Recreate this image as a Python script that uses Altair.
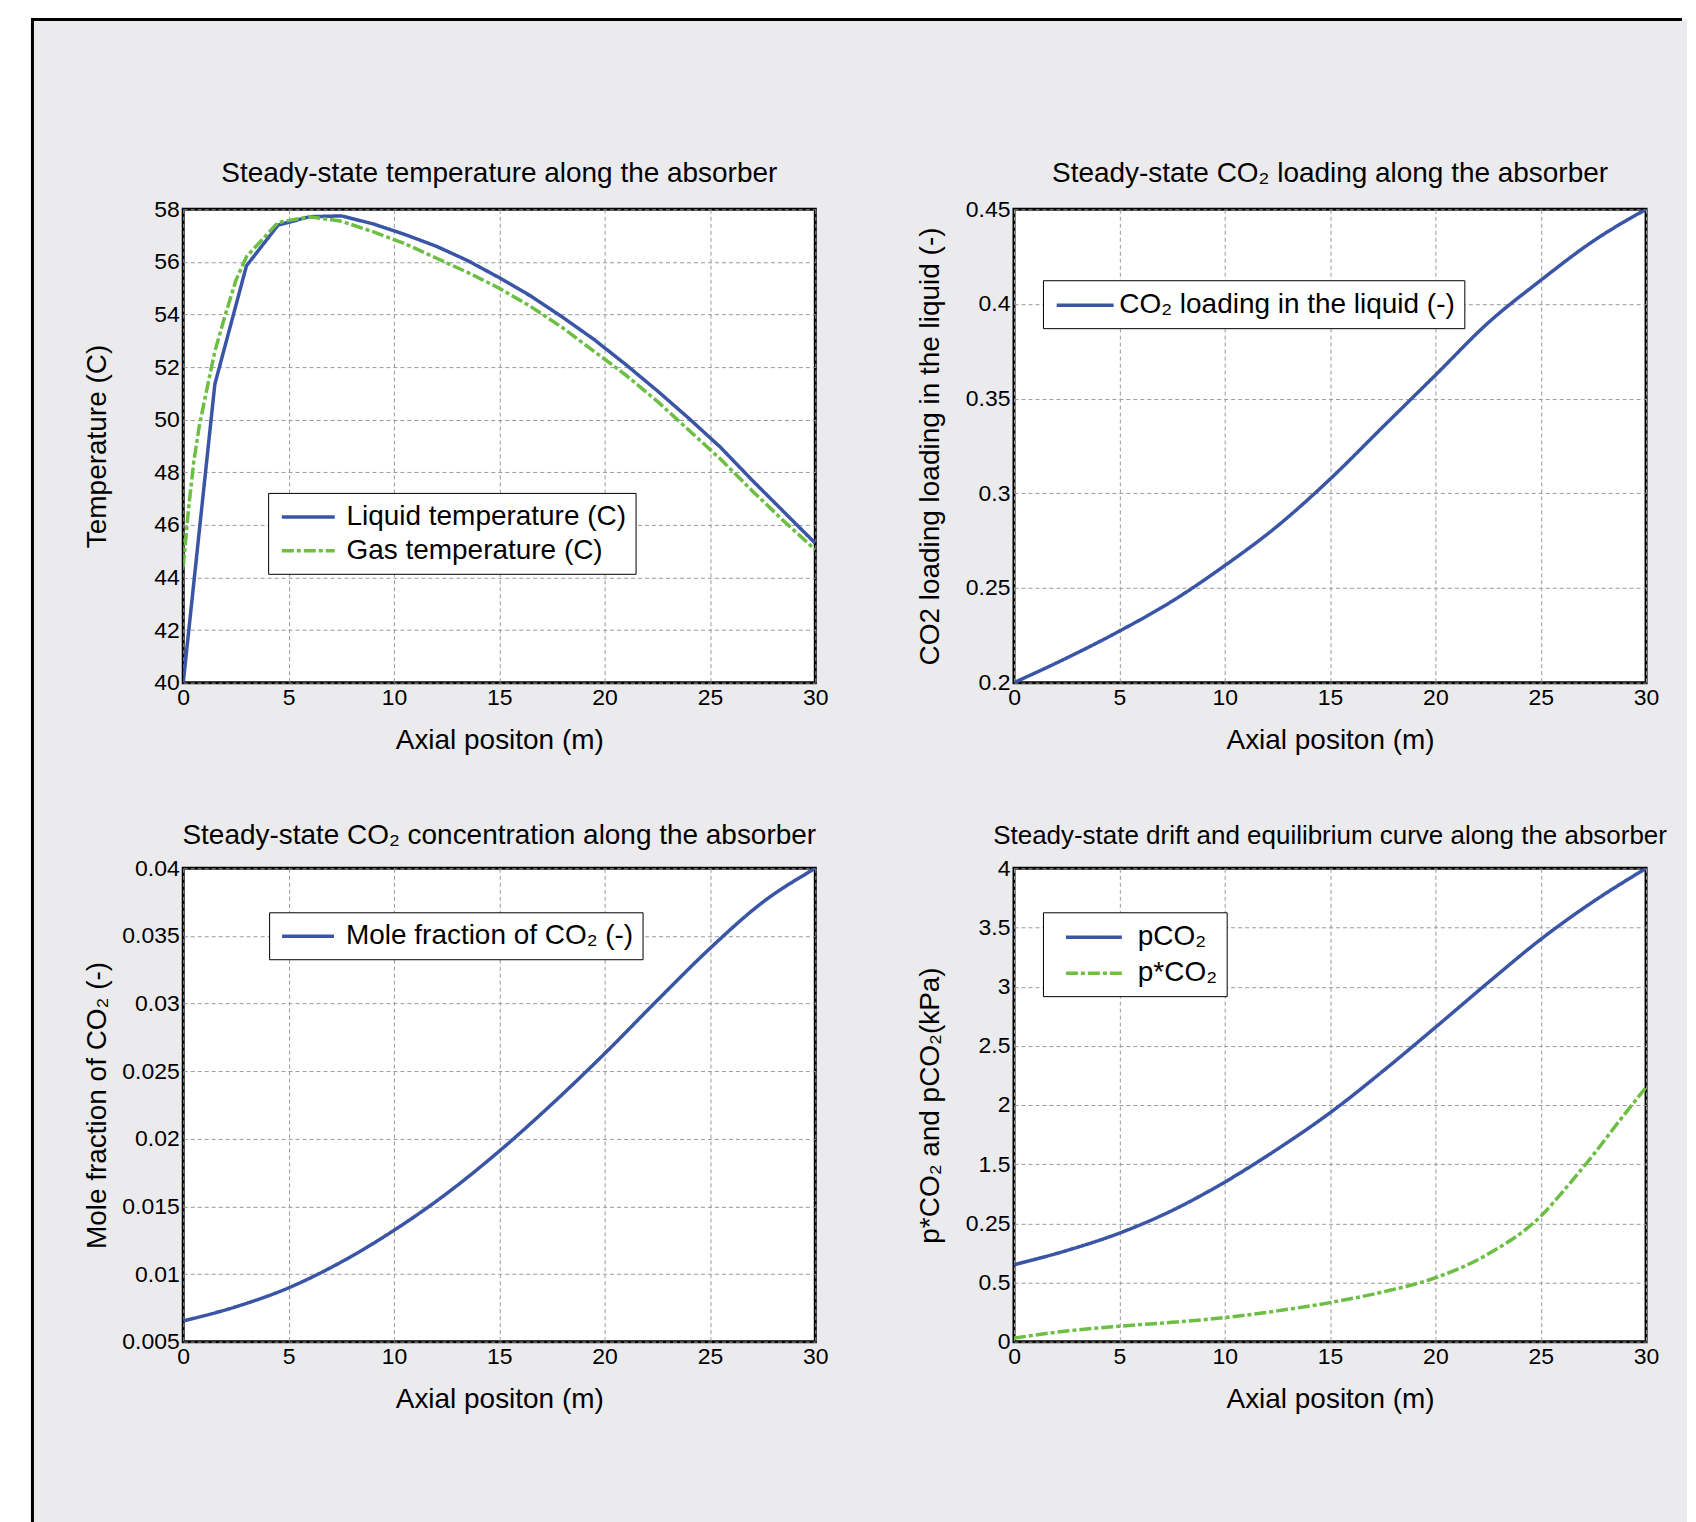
import altair as alt
import pandas as pd

# ---------------- data ----------------
# Panel 1: temperatures
x_liquid = [0, 1.5, 3, 4.5, 6, 7.5, 9, 10.5, 12, 13.5, 15, 16.5, 18, 19.5, 21, 22.5, 24, 25.5, 27, 28.5, 30]
t_liquid = [40, 51.35, 55.85, 57.4, 57.72, 57.75, 57.45, 57.05, 56.6, 56.05, 55.4, 54.7, 53.9, 53.05,
            52.1, 51.1, 50.05, 48.95, 47.7, 46.5, 45.3]
x_gas = [0, 0.25, 0.5, 0.75, 1.0, 1.5, 2.0, 2.5, 3.0, 4.5, 6, 7.5, 9, 10.5, 12, 13.5, 15, 16.5, 18,
         19.5, 21, 22.5, 24, 25.5, 27, 28.5, 30]
t_gas = [44.4, 46.6, 48.4, 49.7, 50.7, 52.6, 54.0, 55.3, 56.2, 57.5, 57.72, 57.55, 57.15, 56.7, 56.15,
         55.6, 55.0, 54.3, 53.5, 52.6, 51.7, 50.7, 49.6, 48.5, 47.3, 46.15, 45.05]

# Panel 2: CO2 loading
x_pos = [0, 2.5, 5, 7.5, 10, 12.5, 15, 17.5, 20, 22.5, 25, 27.5, 30]
loading = [0.2, 0.213, 0.2272, 0.243, 0.2618, 0.2827, 0.3075, 0.335, 0.3624, 0.390, 0.4125, 0.4333, 0.45]

# Panel 3: mole fraction of CO2
mole_frac = [0.00653, 0.00758, 0.00898, 0.01089, 0.01323, 0.01595, 0.01909, 0.02257, 0.0263,
             0.03024, 0.03408, 0.03749, 0.04]

# Panel 4: pCO2 and p*CO2
p_co2 = [0.65, 0.77, 0.917, 1.108, 1.348, 1.627, 1.934, 2.285, 2.656, 3.034, 3.40, 3.72, 4.0]
x_pstar = [0, 2.5, 5, 7.5, 10, 12.5, 15, 17.5, 20, 22.5, 25, 26.25, 27.5, 28.75, 30]
p_star = [0.03, 0.09, 0.13, 0.163, 0.203, 0.26, 0.33, 0.42, 0.54, 0.74, 1.06, 1.31, 1.58, 1.87, 2.15]

x_ticks = [0, 5, 10, 15, 20, 25, 30]
y1_ticks = [40, 42, 44, 46, 48, 50, 52, 54, 56, 58]
y2_ticks = [0.2, 0.25, 0.3, 0.35, 0.4, 0.45]
y3_ticks = [0.005, 0.01, 0.015, 0.02, 0.025, 0.03, 0.035, 0.04]
y4_ticks = [0, 0.5, 1, 1.5, 2, 2.5, 3, 3.5, 4]

# ---------------- styling ----------------
FONT = "Liberation Sans"
BLUE = "#3A55A5"
GREEN = "#6CBF43"
SOLID = [1, 0]
DASHDOT = [12, 3, 4, 3]
W, H = 633, 474
LEG_FS = 28


def frame(xs, vs, name):
    return pd.DataFrame({"x": xs, "v": vs, "s": [name] * len(xs)})


def x_axis():
    return alt.Axis(values=x_ticks, title="Axial positon (m)", titleY=66,
                    titleBaseline="alphabetic", format="~g", labelFlush=False)


def y_axis(title, values, tx, expr=None):
    kw = dict(values=values, title=title, titleX=tx, titleY=H / 2, titleAngle=270,
              titleAlign="center", titleBaseline="alphabetic", format="~g")
    if expr:
        kw["labelExpr"] = expr
    return alt.Axis(**kw)


def legend(x, y, length, s0, l0, rowpad, pad):
    # symbol drawn as a custom horizontal stroke path of half-width 2 units
    d = length / 2.0
    sym_off = s0 + d / 2.0
    lab_off = l0 - sym_off - d
    return alt.Legend(title=None, orient="none", legendX=x, legendY=y,
                      symbolType="M-2,0H2", symbolSize=d * d, symbolStrokeWidth=3.5,
                      symbolOffset=sym_off, labelOffset=lab_off,
                      rowPadding=rowpad, padding=pad,
                      fillColor="white", strokeColor="black", labelFontSize=LEG_FS,
                      labelFont=FONT, labelColor="black", labelLimit=1000)


def panel(df, names, colors, dashes, ytitle, ydom, yticks, tx, leg, title, tsize, toff, interp, expr=None):
    lg = legend(*leg)
    return alt.Chart(df).mark_line(strokeWidth=3.5, interpolate=interp, clip=True).encode(
        x=alt.X("x:Q", scale=alt.Scale(domain=[0, 30], nice=False), axis=x_axis()),
        y=alt.Y("v:Q", scale=alt.Scale(domain=ydom, nice=False, zero=False),
                axis=y_axis(ytitle, yticks, tx, expr)),
        color=alt.Color("s:N", scale=alt.Scale(domain=names, range=colors), legend=lg),
        strokeDash=alt.StrokeDash("s:N", scale=alt.Scale(domain=names, range=dashes), legend=lg),
    ).properties(width=W, height=H, title=alt.TitleParams(title, fontSize=tsize, offset=toff))


n1 = ["Liquid temperature (C)", "Gas temperature (C)"]
p1 = panel(pd.concat([frame(x_liquid, t_liquid, n1[0]), frame(x_gas, t_gas, n1[1])]),
           n1, [BLUE, GREEN], [SOLID, DASHDOT], "Temperature (C)", [40, 58], y1_ticks, -78,
           (85, 284, 53, 3, 66, 5, 9), "Steady-state temperature along the absorber", 28, 10, "linear")

n2 = ["CO\u2082 loading in the liquid (-)"]
p2 = panel(frame(x_pos, loading, n2[0]), n2, [BLUE], [SOLID],
           "CO2 loading loading in the liquid (-)", [0.2, 0.45], y2_ticks, -76,
           (29, 71, 57, 3, 64, 5, 9), "Steady-state CO\u2082 loading along the absorber", 28, 10, "monotone")

n3 = ["Mole fraction of CO\u2082 (-)"]
p3 = panel(frame(x_pos, mole_frac, n3[0]), n3, [BLUE], [SOLID],
           "Mole fraction of CO\u2082 (-)", [0.005, 0.04], y3_ticks, -78,
           (86, 44, 52, 2, 64, 5, 9), "Steady-state CO\u2082 concentration along the absorber", 28, 7,
           "monotone")

n4 = ["pCO\u2082", "p*CO\u2082"]
p4 = panel(pd.concat([frame(x_pos, p_co2, n4[0]), frame(x_pstar, p_star, n4[1])]),
           n4, [BLUE, GREEN], [SOLID, DASHDOT], "p*CO\u2082 and pCO\u2082(kPa)", [0, 4], y4_ticks, -76,
           (29, 44, 56, 12, 82, 6, 9), "Steady-state drift and equilibrium curve along the absorber",
           26, 8, "monotone", expr="datum.value == 1 ? '0.25' : datum.label")

chart = alt.concat(p1, p2, p3, p4, columns=2, spacing={"row": 186, "column": 199}, bounds="flush")
chart = chart.resolve_scale(color="independent", strokeDash="independent")
chart = chart.properties(padding={"left": 18.5, "top": 4.5, "right": 0, "bottom": 0})
chart = chart.configure(background="white").configure_view(
    stroke="black", strokeWidth=3, fill="white"
).configure_axis(
    labelFont=FONT, labelFontSize=23, labelColor="black", titleFont=FONT, titleFontSize=28,
    titleFontWeight="normal", titleColor="black", domain=False, ticks=False, tickSize=0,
    grid=True, gridColor="#9a9a9a", gridDash=[4, 3], gridWidth=1, labelOverlap=False, labelBound=False
).configure_axisX(labelPadding=4).configure_axisY(labelPadding=4).configure_title(
    font=FONT, fontWeight="normal", color="black", anchor="middle", frame="group",
    baseline="alphabetic"
)

# decorative page frame (gray panel, black top/left border) drawn behind everything
frame_patch = [
    {"op": "add", "path": "/marks/0",
     "value": {"type": "path", "encode": {"enter": {
         "path": {"value": "M-151,1320L-151,-190L1501,-190"},
         "fill": {"value": "transparent"}, "stroke": {"value": "black"},
         "strokeWidth": {"value": 3}}}}},
    {"op": "add", "path": "/marks/0",
     "value": {"type": "rect", "encode": {"enter": {
         "x": {"value": -151}, "y": {"value": -190},
         "width": {"value": 1657}, "height": {"value": 1510},
         "fill": {"value": "#EBEBED"}}}}},
]

chart.save("out.html", embed_options={"renderer": "svg", "actions": False, "patch": frame_patch})
